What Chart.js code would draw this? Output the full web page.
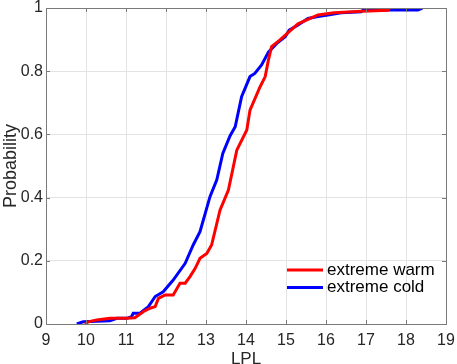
<!DOCTYPE html>
<html>
<head>
<meta charset="utf-8">
<script src="https://cdn.jsdelivr.net/npm/chart.js@4"></script>
<style>
  html, body { margin: 0; padding: 0; background: #fff; }
  #wrap { width: 457px; height: 364px; }
</style>
</head>
<body>
<div id="wrap"><canvas id="grafica" width="457" height="364"></canvas></div>
<script>
// CDF de LPL: extremos cálidos vs fríos
const warmX = [9.97, 10.06, 10.27, 10.6, 11.02, 11.22, 11.31, 11.43, 11.6, 11.73, 11.81, 11.98, 12.18, 12.35, 12.48, 12.6, 12.73, 12.85, 13.02, 13.14, 13.35, 13.56, 13.77, 14.02, 14.1, 14.35, 14.48, 14.56, 14.64, 14.85, 15.08, 15.3, 15.8, 16.2, 16.9, 17.55, 17.59];
const warmY = [0, 0.007, 0.013, 0.018, 0.018, 0.02, 0.028, 0.039, 0.05, 0.055, 0.081, 0.092, 0.092, 0.129, 0.129, 0.15, 0.176, 0.208, 0.223, 0.25, 0.36, 0.424, 0.55, 0.614, 0.677, 0.75, 0.783, 0.835, 0.878, 0.899, 0.925, 0.95, 0.978, 0.985, 0.99, 0.993, 1.0];

const coldX = [9.77, 9.93, 10.6, 10.77, 11.02, 11.14, 11.18, 11.35, 11.56, 11.73, 11.93, 12.18, 12.48, 12.68, 12.85, 13.1, 13.27, 13.42, 13.6, 13.73, 13.89, 14.1, 14.22, 14.39, 14.56, 14.77, 14.98, 15.08, 15.3, 15.55, 15.8, 16.05, 16.38, 16.88, 16.93, 18.3, 18.41];
const coldY = [0, 0.007, 0.01, 0.018, 0.018, 0.023, 0.034, 0.034, 0.055, 0.087, 0.102, 0.139, 0.192, 0.25, 0.292, 0.403, 0.456, 0.54, 0.595, 0.624, 0.719, 0.783, 0.793, 0.82, 0.86, 0.888, 0.909, 0.93, 0.946, 0.967, 0.973, 0.978, 0.985, 0.988, 0.994, 0.994, 1.0];

const seriesLabels = ['extreme warm', 'extreme cold'];
const xTicks = [9, 10, 11, 12, 13, 14, 15, 16, 17, 18, 19];
const yTicks = [0, 0.2, 0.4, 0.6, 0.8, 1];

const FONT = 'Liberation Sans, Arial, sans-serif';

function pares(xs, ys) {
    return xs.map((x, i) => ({ x: x, y: ys[i] }));
}

// Caja, marcas hacia dentro (estilo MATLAB) y leyenda dentro del área
const cajaYLeyenda = {
    id: 'cajaYLeyenda',
    afterDraw(chart) {
        const { ctx, chartArea: a, scales } = chart;
        ctx.save();
        ctx.strokeStyle = '#7a7a7a';
        ctx.lineWidth = 1;
        ctx.beginPath();
        xTicks.forEach(v => {
            const px = Math.round(scales.x.getPixelForValue(v)) + 0.5;
            ctx.moveTo(px, a.bottom); ctx.lineTo(px, a.bottom - 4);
            ctx.moveTo(px, a.top); ctx.lineTo(px, a.top + 4);
        });
        yTicks.forEach(v => {
            const py = Math.round(scales.y.getPixelForValue(v)) + 0.5;
            ctx.moveTo(a.left, py); ctx.lineTo(a.left + 4, py);
            ctx.moveTo(a.right, py); ctx.lineTo(a.right - 4, py);
        });
        ctx.stroke();
        ctx.strokeRect(Math.round(a.left) + 0.5, Math.round(a.top) + 0.5,
                       Math.round(a.right - a.left), Math.round(a.bottom - a.top));

        // leyenda
        ctx.font = '17px ' + FONT;
        ctx.textBaseline = 'middle';
        ctx.fillStyle = '#000';
        chart.data.datasets.forEach((ds, i) => {
            const y = 270 + i * 17.5;
            ctx.strokeStyle = ds.borderColor;
            ctx.lineWidth = 3;
            ctx.beginPath();
            ctx.moveTo(287, y); ctx.lineTo(323, y);
            ctx.stroke();
            ctx.fillText(ds.label, 327, y);
        });
        ctx.restore();
    }
};

const ctx = document.getElementById('grafica').getContext('2d');
new Chart(ctx, {
    type: 'scatter',
    data: {
        datasets: [
            {
                label: seriesLabels[0],
                data: pares(warmX, warmY),
                showLine: true,
                borderColor: '#ff0000',
                borderWidth: 3,
                pointRadius: 0,
                tension: 0
            },
            {
                label: seriesLabels[1],
                data: pares(coldX, coldY),
                showLine: true,
                borderColor: '#0000ff',
                borderWidth: 3,
                pointRadius: 0,
                tension: 0
            }
        ]
    },
    options: {
        responsive: false,
        animation: false,
        devicePixelRatio: 1,
        layout: { padding: { top: 8, right: 11, left: 0, bottom: 0 } },
        plugins: {
            legend: { display: false },
            tooltip: { enabled: false }
        },
        scales: {
            x: {
                type: 'linear',
                min: xTicks[0],
                max: xTicks[xTicks.length - 1],
                afterBuildTicks: s => { s.ticks = xTicks.map(v => ({ value: v })); },
                afterFit: s => { s.height = 40; s.paddingLeft = 0; s.paddingRight = 0; },
                grid: { color: '#e3e3e3', drawTicks: false },
                border: { display: false },
                ticks: { color: '#262626', font: { family: FONT, size: 16 }, padding: 7 },
                title: {
                    display: true,
                    text: 'LPL',
                    color: '#262626',
                    font: { family: FONT, size: 17 },
                    padding: { top: 0, bottom: -6 }
                }
            },
            y: {
                type: 'linear',
                min: 0,
                max: 1,
                afterBuildTicks: s => { s.ticks = yTicks.map(v => ({ value: v })); },
                afterFit: s => { s.width = 46; s.paddingTop = 0; s.paddingBottom = 0; },
                grid: { color: '#e3e3e3', drawTicks: false },
                border: { display: false },
                ticks: {
                    color: '#262626',
                    font: { family: FONT, size: 16 },
                    padding: 3,
                    callback: v => String(Math.round(v * 10) / 10)
                },
                title: {
                    display: true,
                    text: 'Probability',
                    color: '#262626',
                    font: { family: FONT, size: 18 },
                    padding: { top: 0, bottom: 0 }
                }
            }
        }
    },
    plugins: [cajaYLeyenda]
});
</script>
</body>
</html>
